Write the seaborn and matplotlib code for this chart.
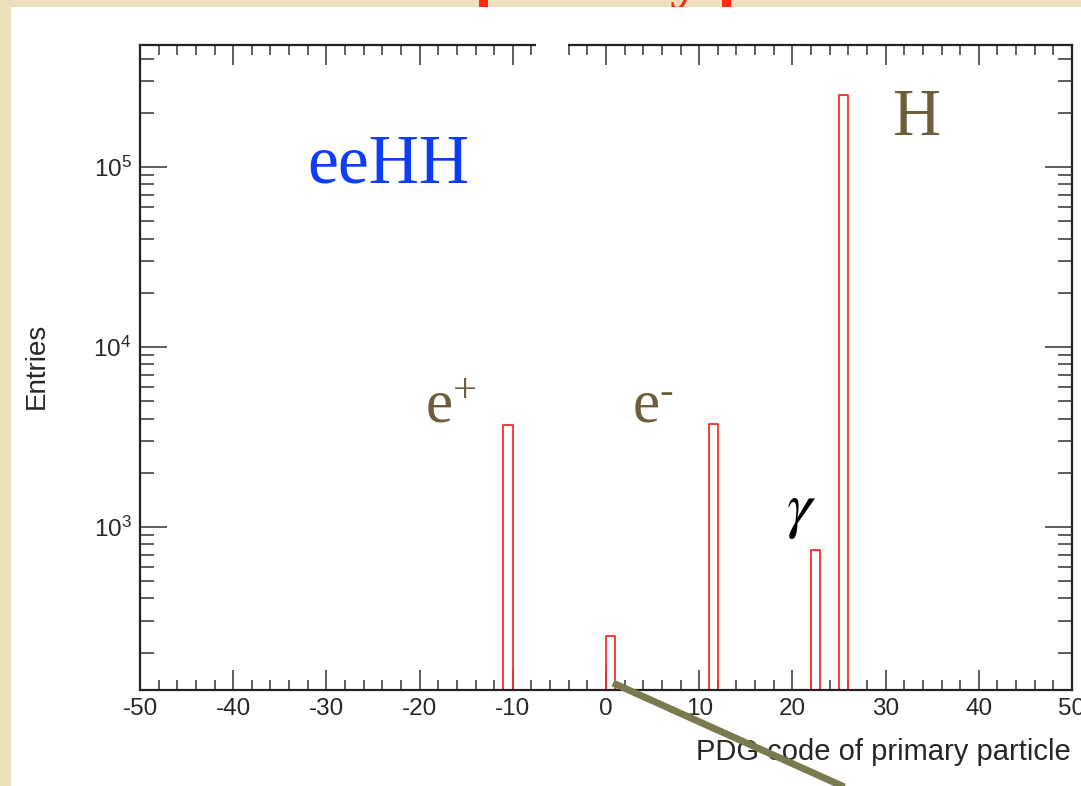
import numpy as np
import pandas as pd
import matplotlib
matplotlib.use("Agg")
import matplotlib.pyplot as plt
import seaborn as sns
from matplotlib.patches import Rectangle
from matplotlib.lines import Line2D
from matplotlib.ticker import MultipleLocator, LogLocator, NullFormatter

# ---------------- data ----------------
pdg_codes = [-11, 0, 11, 22, 25]
entries = [3680, 247, 3730, 741, 250000]
x_ticks = [-50, -40, -30, -20, -10, 0, 10, 20, 30, 40, 50]
particle_labels = [r"$\mathregular{e^{+}}$", r"$\mathregular{e^{\text{-}}}$", r"$\gamma$", "H"]
sample_label = "eeHH"
title_prefix = "PDG of"
title_main = "primary particle"
x_label = "PDG code of primary particle"
y_label = "Entries"

df = pd.DataFrame({"code": pdg_codes, "n": entries})

# ---------------- style ----------------
sns.set_style("ticks")
plt.rcParams["font.family"] = ["Liberation Sans", "DejaVu Sans"]
plt.rcParams["mathtext.fontset"] = "stix"
plt.rcParams["axes.unicode_minus"] = False

W, H = 1081, 786
fig = plt.figure(figsize=(W / 100, H / 100), dpi=100)
fig.patch.set_facecolor("#ede1bd")

def fx(px):
    return px / W

def fy(py):
    return 1 - py / H

# partially hidden red slide title (behind the white panel)
fig.text(fx(460), fy(-4), title_prefix, color="#ff2a10", fontsize=46,
         fontweight="bold", family=["Liberation Serif"], ha="right",
         va="baseline", zorder=-3)
fig.text(fx(475), fy(-4), title_main, color="#ff2a10", fontsize=46,
         fontweight="bold", family=["Liberation Serif"], ha="left",
         va="baseline", zorder=-3)
# white slide panel
fig.add_artist(Rectangle((fx(11), 0), 1 - fx(11), fy(7), transform=fig.transFigure,
                         facecolor="white", edgecolor="none", zorder=-2))

ax = fig.add_axes([fx(140), fy(690), fx(1072) - fx(140), fy(45) - fy(690)])
ax.set_facecolor("white")

sns.histplot(data=df, x="code", weights="n", binwidth=1, binrange=(-50, 50),
             element="step", fill=False, color="#ff2a2a", linewidth=1.3, ax=ax)

ax.set_yscale("log")
ax.set_xlim(-50, 50)
ax.set_ylim(124, 476000)

ax.xaxis.set_major_locator(MultipleLocator(10))
ax.xaxis.set_minor_locator(MultipleLocator(2))
ax.set_xticks(x_ticks)
ax.yaxis.set_major_locator(LogLocator(base=10))
ax.yaxis.set_minor_locator(LogLocator(base=10, subs=np.arange(2, 10)))
ax.yaxis.set_minor_formatter(NullFormatter())

ax.tick_params(axis="x", which="major", direction="in", length=14.4, width=1.1,
               color="#333333", top=True, bottom=True, labelsize=17.5, pad=6)
ax.tick_params(axis="x", which="minor", direction="in", length=7.2, width=1.1,
               color="#333333", top=True, bottom=True)
ax.tick_params(axis="y", which="major", direction="in", length=19.4, width=1.1,
               color="#333333", left=True, right=True, labelsize=17.5, pad=6)
ax.tick_params(axis="y", which="minor", direction="in", length=10, width=1.1,
               color="#333333", left=True, right=True)
for s in ax.spines.values():
    s.set_linewidth(1.6)
    s.set_color("#222222")
    s.set_visible(True)

ax.set_xlabel("")
ax.set_ylabel("")
fig.text(fx(1071), fy(752), x_label, fontsize=21, ha="right", va="center")
fig.text(fx(37), fy(366), y_label, fontsize=20, rotation=90, ha="center", va="center")

# annotations
serif = ["Liberation Serif", "DejaVu Serif"]
ax.text(-32.1, 81800, sample_label, color="#0f3cf5", fontsize=50, family=serif,
        ha="left", va="baseline")
ax.text(30.7, 151000, particle_labels[3], color="#6b5e3a", fontsize=48, family=serif,
        ha="left", va="baseline")
ax.text(-19.4, 3780, particle_labels[0], color="#6b5e3a", fontsize=44, family=serif,
        ha="left", va="baseline")
ax.text(2.8, 3780, particle_labels[1], color="#6b5e3a", fontsize=44, family=serif,
        ha="left", va="baseline")
ax.text(20.9, 1222, particle_labels[2], color="black", fontsize=46,
        ha="center", va="center")

# white patch breaking the top frame
fig.add_artist(Rectangle((fx(536), fy(62)), fx(568) - fx(536), fy(38) - fy(62),
                         transform=fig.transFigure, facecolor="white",
                         edgecolor="none", zorder=5))
# olive pointer line from the slide
fig.add_artist(Line2D([fx(613), fx(880)], [fy(683), fy(803)], transform=fig.transFigure,
                      color="#7b7a4e", linewidth=5, solid_capstyle="butt", zorder=6))

fig.savefig("out.png", dpi=100, facecolor=fig.get_facecolor())
